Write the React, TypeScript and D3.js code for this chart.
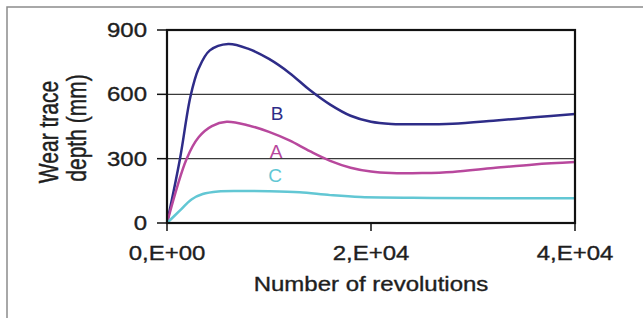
import * as d3 from "d3";

const width = 643;
const height = 318;

// ticks
const yTicks = [0, 300, 600, 900];
const xTicks = [0, 20000, 40000];
const xTickLabels = ["0,E+00", "2,E+04", "4,E+04"];

// series: [revolutions, depth]
const seriesB = [
  [0, 0], [1275, 300], [2300, 590], [3100, 720], [4200, 805], [6000, 835],
  [8000, 812], [10000, 765], [12000, 700], [14000, 620], [16000, 552],
  [18000, 500], [20000, 472], [22000, 462], [25000, 460], [28000, 463],
  [32000, 477], [36000, 493], [40000, 508],
];
const seriesA = [
  [0, 0], [1930, 300], [3100, 400], [4400, 452], [5850, 472], [8000, 455],
  [10000, 425], [12000, 385], [14000, 335], [16000, 290], [18000, 258],
  [20000, 240], [22000, 233], [25000, 233], [28000, 238], [32000, 256],
  [36000, 273], [40000, 284],
];
const seriesC = [
  [0, 0], [1200, 55], [2400, 110], [3500, 135], [5000, 147], [7450, 149],
  [10000, 148], [13000, 143], [16000, 130], [19000, 121], [26000, 117], [40000, 115],
];

const series = [
  { name: "B", data: seriesB, color: "#2e2c88", label: [277, 120] },
  { name: "A", data: seriesA, color: "#b8489d", label: [276, 158] },
  { name: "C", data: seriesC, color: "#62c7d4", label: [275, 182] },
];

const marginLeft = 167;
const marginRight = 68;
const marginTop = 30;
const marginBottom = 95;

const font = "'Liberation Sans', Arial, sans-serif";
const sx = 1.2; // the picture is a bit stretched sideways
const ink = "#1e1e1e";

const App = () => {
  const x = d3.scaleLinear().domain([0, 40000]).range([marginLeft, width - marginRight]);
  const y = d3.scaleLinear().domain([0, 900]).range([height - marginBottom, marginTop]);

  const line = d3
    .line<number[]>()
    .x((d) => x(d[0]))
    .y((d) => y(d[1]))
    .curve(d3.curveCatmullRom.alpha(0.5));

  const [x0, x1] = x.range();
  const [y0, y1] = y.range();

  const textProps = { fill: ink, stroke: ink, strokeWidth: 0.35 };

  return (
    <svg
      width={width}
      height={height}
      viewBox={`0 0 ${width} ${height}`}
      style={{ position: "absolute", left: 0, top: 0, background: "#fff" }}
      fontFamily={font}
    >
      {/* outer frame */}
      <rect x={7} y={7} width={width} height={height} fill="none" stroke="#8c8c8c" strokeWidth={1.5} />

      {/* grid lines */}
      {yTicks.slice(1, -1).map((t) => (
        <line key={t} x1={x0} x2={x1} y1={y(t)} y2={y(t)} stroke="#3a3a3a" strokeWidth={1.3} />
      ))}

      {/* series */}
      {series.map((s) => (
        <path key={s.name} d={line(s.data) ?? ""} fill="none" stroke={s.color} strokeWidth={2.5} />
      ))}

      {/* plot frame */}
      <rect x={x0} y={y1} width={x1 - x0} height={y0 - y1} fill="none" stroke="#111" strokeWidth={2.2} />

      {/* y axis ticks */}
      {yTicks.map((t) => (
        <g key={t}>
          <line x1={x0 - 10} x2={x0} y1={y(t)} y2={y(t)} stroke="#111" strokeWidth={1.5} />
          <text
            transform={`translate(${x0 - 20},${y(t) + 7}) scale(${sx},1)`}
            textAnchor="end"
            fontSize={20}
            {...textProps}
          >
            {t}
          </text>
        </g>
      ))}

      {/* x axis ticks */}
      {xTicks.map((t, i) => (
        <g key={t}>
          <line x1={x(t)} x2={x(t)} y1={y0} y2={y0 + 8} stroke="#111" strokeWidth={1.5} />
          <text
            transform={`translate(${x(t)},${y0 + 37}) scale(${sx},1)`}
            textAnchor="middle"
            fontSize={20}
            {...textProps}
          >
            {xTickLabels[i]}
          </text>
        </g>
      ))}

      {/* axis titles */}
      <text
        transform={`translate(${(x0 + x1) / 2},${y0 + 68}) scale(${sx},1)`}
        textAnchor="middle"
        fontSize={20}
        {...textProps}
      >
        Number of revolutions
      </text>
      <text
        transform={`translate(58,132) scale(1.28,1) rotate(-90)`}
        textAnchor="middle"
        fontSize={21}
        {...textProps}
      >
        Wear trace
      </text>
      <text
        transform={`translate(86,128) scale(1.28,1) rotate(-90)`}
        textAnchor="middle"
        fontSize={21}
        {...textProps}
      >
        depth (mm)
      </text>

      {/* curve labels */}
      {series.map((s) => (
        <text
          key={s.name}
          x={s.label[0]}
          y={s.label[1]}
          textAnchor="middle"
          fontSize={19}
          fill={s.color}
        >
          {s.name}
        </text>
      ))}
    </svg>
  );
};

export default App;
